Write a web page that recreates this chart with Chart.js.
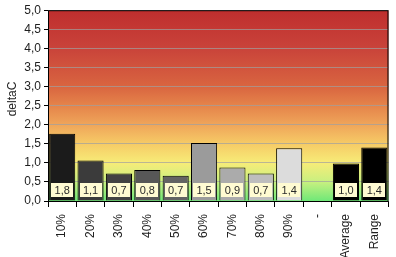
<!DOCTYPE html>
<html>
<head>
<meta charset="utf-8">
<script src="https://cdn.jsdelivr.net/npm/chart.js@4/dist/chart.umd.min.js"></script>
<style>
    html, body { margin: 0; padding: 0; background: #ffffff; }
    #wrap { width: 396px; height: 257px; }
</style>
</head>
<body>
<div id="wrap"><canvas id="deltaChart" width="396" height="257"></canvas></div>
<script>
// deltaC per percentiel, plus gemiddelde en range

const CATEGORIES = ['10%', '20%', '30%', '40%', '50%', '60%', '70%', '80%', '90%', '-', 'Average', 'Range'];
const VALUES = [1.76, 1.06, 0.72, 0.81, 0.66, 1.52, 0.88, 0.72, 1.38, null, 0.98, 1.40];
const BAR_COLORS = ['#1b1b1b', '#3b3b3b', '#424242', '#575757', '#636363', '#9b9b9b',
    '#ababab', '#bdbdbd', '#dcdcdc', '#ffffff', '#000000', '#000000'];
const Y_MIN = 0;
const Y_MAX = 5;
const Y_STEP = 0.5;

const fmt = v => v.toFixed(1).replace('.', ',');

// achtergrond: verloop rood -> oranje -> geel -> groen
const bgPlugin = {
    id: 'bgGradient',
    beforeDraw(chart) {
        const { ctx, chartArea: a } = chart;
        const g = ctx.createLinearGradient(0, a.top, 0, a.bottom);
        g.addColorStop(0.00, '#bf2e2e');
        g.addColorStop(0.20, '#c9433a');
        g.addColorStop(0.40, '#d96540');
        g.addColorStop(0.50, '#e5844a');
        g.addColorStop(0.60, '#efa55a');
        g.addColorStop(0.70, '#f6cb66');
        g.addColorStop(0.80, '#f7ec78');
        g.addColorStop(0.90, '#c8f080');
        g.addColorStop(1.00, '#6fe878');
        ctx.save();
        ctx.fillStyle = g;
        ctx.fillRect(a.left, a.top, a.right - a.left, a.bottom - a.top);
        ctx.restore();
    }
};

// rand om plotgebied + waardelabels onderin de balken + as-titel
const labelPlugin = {
    id: 'valueBoxes',
    afterDatasetsDraw(chart) {
        const { ctx, chartArea: a } = chart;
        ctx.save();
        ctx.strokeStyle = '#000000';
        ctx.lineWidth = 1;
        ctx.strokeRect(a.left + 0.5, a.top + 0.5, a.right - a.left - 1, a.bottom - a.top);

        const meta = chart.getDatasetMeta(0);
        ctx.font = '11px "Liberation Sans", Arial, sans-serif';
        ctx.textAlign = 'center';
        ctx.textBaseline = 'middle';
        meta.data.forEach((bar, i) => {
            const v = VALUES[i];
            if (v === null) return;
            const cy = a.bottom - 11;
            ctx.fillStyle = '#fffbd2';
            ctx.fillRect(Math.round(bar.x) - 11, cy - 7, 22, 14);
            ctx.fillStyle = '#2a2a2a';
            ctx.fillText(fmt(v), bar.x, cy + 1);
        });

        // y-titel handmatig, iets boven het midden zoals het origineel
        ctx.translate(13, 99);
        ctx.rotate(-Math.PI / 2);
        ctx.font = '12px "Liberation Sans", Arial, sans-serif';
        ctx.fillStyle = '#1e1e1e';
        ctx.fillText('deltaC', 0, 0);
        ctx.restore();
    }
};

const FONT = { family: '"Liberation Sans", Arial, sans-serif', size: 12 };

new Chart(document.getElementById('deltaChart').getContext('2d'), {
    type: 'bar',
    data: {
        labels: CATEGORIES,
        datasets: [{
            data: VALUES,
            backgroundColor: BAR_COLORS,
            borderColor: '#000000',
            borderWidth: 1,
            barPercentage: 0.92,
            categoryPercentage: 1.0
        }]
    },
    options: {
        responsive: false,
        animation: false,
        layout: { padding: { top: 10, right: 7, left: 0, bottom: 0 } },
        plugins: {
            legend: { display: false },
            tooltip: { enabled: false }
        },
        scales: {
            x: {
                afterFit: s => { s.height = 56; },
                grid: {
                    drawOnChartArea: false,
                    drawTicks: true,
                    tickLength: 6,
                    color: '#000000',
                    tickColor: '#000000'
                },
                border: { display: false },
                ticks: {
                    color: '#1e1e1e',
                    font: FONT,
                    minRotation: 90,
                    maxRotation: 90,
                    padding: 7,
                    autoSkip: false
                }
            },
            y: {
                min: Y_MIN,
                max: Y_MAX,
                afterFit: s => { s.width = 48; },
                grid: {
                    color: 'rgba(160,160,160,0.7)',
                    tickColor: '#000000',
                    tickLength: 4,
                    lineWidth: 1
                },
                border: { display: false },
                ticks: {
                    stepSize: Y_STEP,
                    color: '#1e1e1e',
                    font: FONT,
                    padding: 3,
                    callback: v => fmt(v)
                }
            }
        }
    },
    plugins: [bgPlugin, labelPlugin]
});
</script>
</body>
</html>
